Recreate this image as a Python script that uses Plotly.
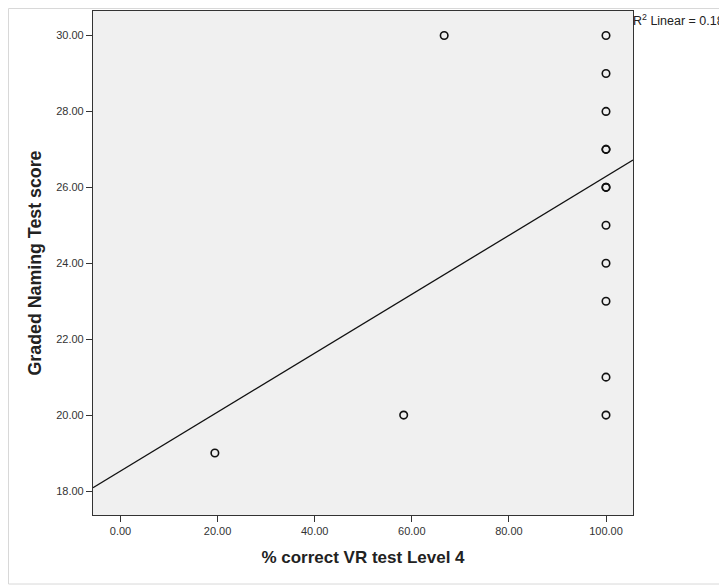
import plotly.graph_objects as go

# Data
pct_correct_vr_l4 = [100, 100, 100, 100, 100, 100, 100, 100, 100, 100, 100, 100, 66.67, 58.33, 19.44]
gnt_score = [30, 29, 28, 27, 27, 26, 26, 25, 24, 23, 21, 20, 30, 20, 19]
fit_intercept = 18.526
fit_slope = 0.0776
r2_label = "R<sup>2</sup> Linear = 0.181"
x_ticks = [0, 20, 40, 60, 80, 100]
y_ticks = [18, 20, 22, 24, 26, 28, 30]
x_range = [-5.66, 105.56]
y_range = [17.368, 30.645]

W, H = 727, 586
L, R, T, B = 85, 102, 3, 79
PW, PH = W - L - R, H - T - B


def px(fx):
    return (fx - L) / PW


def py(fy):
    return (H - B - fy) / PH


fig = go.Figure()

fig.add_trace(go.Scatter(
    x=x_range,
    y=[fit_intercept + fit_slope * v for v in x_range],
    mode="lines", line=dict(color="#111", width=1.3),
    hoverinfo="skip", showlegend=False))

fig.add_trace(go.Scatter(
    x=pct_correct_vr_l4, y=gnt_score, mode="markers",
    marker=dict(symbol="circle-open", size=7.5, color="#111", line=dict(width=1.6)),
    showlegend=False))

font_fam = "Liberation Sans, Arial, sans-serif"
axis_common = dict(showgrid=False, zeroline=False, showline=True, linecolor="#333",
                   linewidth=1.2, mirror=True, ticks="outside", ticklen=6, tickcolor="#333",
                   tickformat=".2f", tickfont=dict(size=11, color="#333"))
fig.update_layout(
    width=W, height=H,
    margin=dict(l=L, r=R, t=T, b=B, pad=0),
    paper_bgcolor="white", plot_bgcolor="#f0f0f0",
    font=dict(family=font_fam, color="#222"),
    xaxis=dict(range=x_range, tickvals=x_ticks,
               title=dict(text="<b>% correct VR test Level 4</b>", font=dict(size=17, color="#222"),
                          standoff=14),
               **axis_common),
    yaxis=dict(range=y_range, tickvals=y_ticks,
               title=dict(text="<b>Graded Naming Test score</b>", font=dict(size=17.8, color="#222"),
                          standoff=9),
               **axis_common),
    annotations=[dict(text=r2_label, xref="paper", yref="paper", x=1.0, y=1.0,
                      xanchor="left", yanchor="middle", showarrow=False,
                      font=dict(size=12.5, color="#222"), xshift=-2, yshift=-9)],
    shapes=[dict(type="rect", xref="paper", yref="paper",
                 x0=px(0.5), x1=px(760), y0=py(576), y1=py(0.5),
                 line=dict(color="#d8d8d8", width=1), layer="below")],
)

fig.write_html("out.html")
